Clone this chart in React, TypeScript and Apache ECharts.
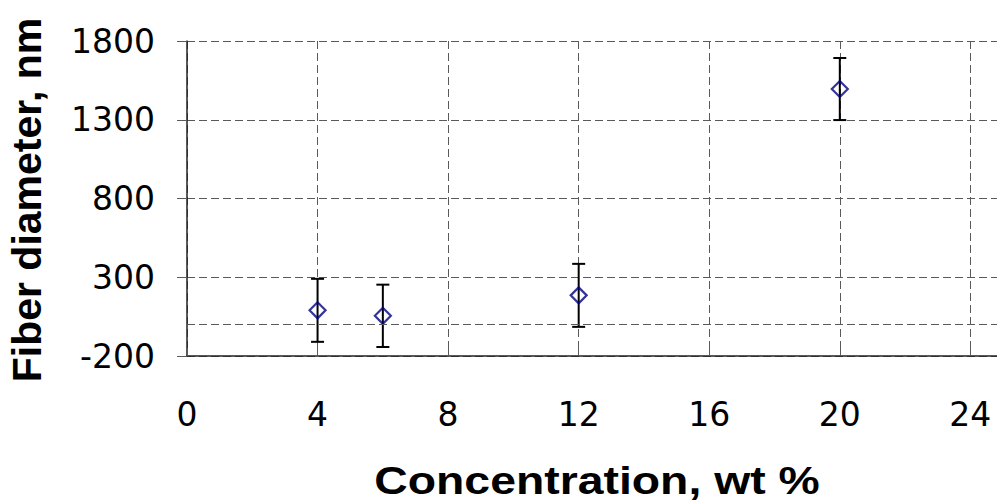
import React, { useEffect, useRef } from "react";
import * as echarts from "echarts";

// Polymer concentration (wt %) and measured mean fiber diameter (nm) with standard deviation
const concentrations = [4, 6, 12, 20];
const diameters = [90, 55, 185, 1495];
const deviations = [200, 198, 200, 197];

const xTicks = [0, 4, 8, 12, 16, 20, 24];
const yTicks = [-200, 300, 800, 1300, 1800];

const xTitle = "Concentration, wt %";
const yTitle = "Fiber diameter, nm";

const gridColor = "#5a5a5a";
const markerColor = "#000080";

export default function App() {
  const ref = useRef<HTMLDivElement>(null);

  useEffect(() => {
    if (!ref.current) return;
    const chart = echarts.init(ref.current, null, { renderer: "svg" });

    const errorData = concentrations.map((c, i) => [
      c,
      diameters[i] - deviations[i],
      diameters[i] + deviations[i],
    ]);
    const points = concentrations.map((c, i) => [c, diameters[i]]);

    const dash = [8, 4];

    chart.setOption({
      animation: false,
      backgroundColor: "#ffffff",
      grid: {
        left: 187,
        top: 41,
        right: -6,
        bottom: 147,
        containLabel: false,
        outerBoundsMode: "none",
      },
      xAxis: {
        type: "value",
        min: xTicks[0],
        max: 25,
        interval: 4,
        axisLine: { onZero: false, lineStyle: { color: "#222", width: 1.5 } },
        axisTick: { show: true, inside: true, length: 8, lineStyle: { color: gridColor } },
        axisLabel: {
          margin: 42,
          color: "#000",
          fontFamily: "DejaVu Sans",
          fontSize: 33,
          formatter: (v: number) => (xTicks.includes(v) ? String(v) : ""),
        },
        splitLine: { show: true, lineStyle: { color: gridColor, type: dash, width: 1 } },
      },
      yAxis: {
        type: "value",
        min: yTicks[0],
        max: yTicks[yTicks.length - 1],
        interval: 500,
        axisLine: { show: true, onZero: false, lineStyle: { color: "#222", width: 1.5 } },
        axisTick: { show: true, inside: false, length: 10, lineStyle: { color: gridColor } },
        axisLabel: {
          margin: 32,
          color: "#000",
          fontFamily: "DejaVu Sans",
          fontSize: 33,
          formatter: (v: number) => String(v),
        },
        splitLine: { show: true, lineStyle: { color: gridColor, type: dash, width: 1 } },
      },
      graphic: [
        {
          type: "text",
          x: 597,
          y: 481,
          scaleX: 1.22,
          style: {
            text: xTitle,
            font: "bold 38px 'Liberation Sans', Arial, sans-serif",
            fill: "#000",
            textAlign: "center",
            textVerticalAlign: "middle",
          },
        },
        {
          type: "text",
          x: 27,
          y: 200,
          rotation: Math.PI / 2,
          style: {
            text: yTitle,
            font: "bold 41px 'Liberation Sans', Arial, sans-serif",
            fill: "#000",
            textAlign: "center",
            textVerticalAlign: "middle",
          },
        },
      ],
      series: [
        {
          type: "custom",
          name: "deviation",
          data: errorData,
          encode: { x: 0, y: [1, 2] },
          z: 3,
          renderItem: (_params: any, api: any) => {
            const x = api.value(0);
            const top = api.coord([x, api.value(2)]);
            const bot = api.coord([x, api.value(1)]);
            const hw = 6.5;
            const style = { stroke: "#000", lineWidth: 2 };
            return {
              type: "group",
              children: [
                { type: "line", shape: { x1: top[0], y1: top[1], x2: bot[0], y2: bot[1] }, style },
                { type: "line", shape: { x1: top[0] - hw, y1: top[1], x2: top[0] + hw, y2: top[1] }, style },
                { type: "line", shape: { x1: bot[0] - hw, y1: bot[1], x2: bot[0] + hw, y2: bot[1] }, style },
              ],
            };
          },
        },
        {
          type: "scatter",
          name: "diameter",
          data: points,
          symbol: "diamond",
          symbolSize: [16, 16],
          z: 4,
          itemStyle: {
            color: "rgba(255,255,255,0)",
            borderColor: markerColor,
            borderWidth: 2.2,
          },
          markLine: {
            silent: true,
            symbol: "none",
            label: { show: false },
            lineStyle: { color: gridColor, type: dash, width: 1 },
            data: [{ yAxis: 0 }],
          },
        },
      ],
    });

    return () => chart.dispose();
  }, []);

  return (
    <div
      ref={ref}
      style={{ position: "fixed", left: 0, top: 0, width: 997, height: 503, background: "#fff" }}
    />
  );
}
